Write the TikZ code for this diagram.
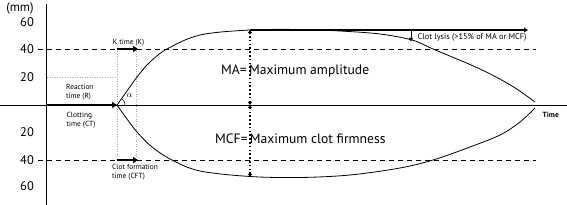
\documentclass[tikz,border=0pt]{standalone}
\usepackage{fontspec}
\setmainfont{PT Sans}
\usetikzlibrary{arrows.meta}
\tikzset{
  axisline/.style={line width=0.8pt},
  dashline/.style={line width=0.7pt, dash pattern=on 5pt off 4pt},
  grayline/.style={line width=0.6pt, gray!70, dash pattern=on 1pt off 1.5pt},
  thickarrow/.style={line width=2.6pt, -{Triangle[length=5pt,width=6pt]}},
  curve/.style={line width=0.8pt},
  dotline/.style={line width=1.8pt, dash pattern=on 1.6pt off 2.2pt, {Triangle[length=3pt,width=4pt]}-{Triangle[length=3pt,width=4pt]}},
  ticklbl/.style={font=\fontsize{12.5}{13}\selectfont, anchor=center},
  smalllbl/.style={font=\fontsize{7.4}{8.6}\selectfont, align=left, inner sep=0pt},
  biglbl/.style={font=\fontsize{13.6}{15}\selectfont, inner sep=0pt}
}
\begin{document}
\begin{tikzpicture}[x=1pt,y=-1pt]
\useasboundingbox (0,0) rectangle (567,205);
% coordinates
\coordinate (o) at (46,105);
\coordinate (ytop) at (46,4);
\coordinate (ybot) at (46,205);
\coordinate (xl) at (0,105);
\coordinate (xr) at (567,105);
\coordinate (r) at (117,105);
% tick labels
\node[ticklbl] (mm) at (20,8) {(mm)};
\node[ticklbl] (u60) at (27,22) {60};
\node[ticklbl] (u40) at (27,49) {40};
\node[ticklbl] (u20) at (27,77) {20};
\node[ticklbl] (l20) at (27,132) {20};
\node[ticklbl] (l40) at (27,160) {40};
\node[ticklbl] (l60) at (27,186) {60};
% dashed lines
\coordinate (d1a) at (38,49); \coordinate (d1b) at (536,49);
\coordinate (d2a) at (38,160); \coordinate (d2b) at (536,160);
\draw[dashline] (d1a) -- (d1b);
\draw[dashline] (d2a) -- (d2b);
% gray dotted helpers
\coordinate (g20a) at (47,77); \coordinate (g20b) at (117,77);
\coordinate (gv1a) at (117,49); \coordinate (gv1b) at (117,160);
\coordinate (gv2a) at (136.5,49); \coordinate (gv2b) at (136.5,160);
\draw[grayline] (g20a) -- (g20b);
\draw[grayline] (gv1a) -- (gv1b);
\draw[grayline] (gv2a) -- (gv2b);
% axes
\draw[axisline] (ytop) -- (ybot);
\draw[axisline] (xl) -- (xr);
% curves
\draw[curve] plot[smooth, tension=0.55] coordinates {(117,105) (127,91) (137,77) (150,62) (167,49) (200,35) (250,30) (300,29.5) (340,31) (380,34) (412,40) (433,49) (480,69) (512,86) (535,102)};
\draw[curve] plot[smooth, tension=0.55] coordinates {(117,105) (127,119) (137,132) (152,147) (172,160) (200,171) (250,176.5) (300,177.5) (350,175) (400,168) (433,160) (470,147) (500,135) (520,122) (535,108)};
% alpha arc
\draw[line width=0.5pt] ([shift={(-54:8)}]117,105) arc[start angle=-54, end angle=0, radius=8];
\node[font=\fontsize{9.5}{10}\selectfont, inner sep=0pt] (alpha) at (129.5,96) {$\alpha$};
% R arrow
\draw[thickarrow] (o) -- (r);
% K arrow
\coordinate (k1) at (117,49); \coordinate (k2) at (138,49);
\draw[thickarrow] (k1) -- (k2);
\node[smalllbl, anchor=south] (klbl) at (128.5,46) {K time (K)};
% CFT arrow
\coordinate (c1) at (117,160); \coordinate (c2) at (138,160);
\draw[thickarrow] (c1) -- (c2);
\node[smalllbl, anchor=north west] (cftlbl) at (112,164.5) {Clot formation\\time (CFT)};
% R and CT labels
\node[smalllbl, anchor=north west] (rlbl) at (66,84) {Reaction\\time (R)};
\node[smalllbl, anchor=north west] (ctlbl) at (66.5,112) {Clotting\\time (CT)};
% MA line
\coordinate (ma1) at (250,30); \coordinate (ma2) at (528,30);
\draw[line width=1.6pt, -{Triangle[length=4pt,width=5pt]}] (ma1) -- (ma2);
% lysis arrow
\coordinate (ly1) at (411,30); \coordinate (ly2) at (411,41.5);
\draw[line width=0.8pt, -{Triangle[length=3.5pt,width=4pt]}] (ly1) -- (ly2);
\node[smalllbl, anchor=west, font=\fontsize{8.3}{9}\selectfont] (lylbl) at (417.5,37.5) {Clot lysis (>15\% of MA or MCF)};
% dotted amplitude lines
\coordinate (dtop) at (250,30); \coordinate (dmid) at (250,105); \coordinate (dbot) at (250,177);
\draw[dotline] (dmid) -- (dtop);
\draw[dotline] (dmid) -- (dbot);
% big labels
\node[biglbl, anchor=west] (malbl) at (221,71.5) {MA=\,Maximum amplitude};
\node[biglbl, anchor=west] (mcflbl) at (215,138.5) {MCF=\,Maximum clot firmness};
% time
\node[font=\bfseries\fontsize{7.5}{8}\selectfont, anchor=west, inner sep=0pt] (time) at (542.5,115) {Time};
\end{tikzpicture}
\end{document}
